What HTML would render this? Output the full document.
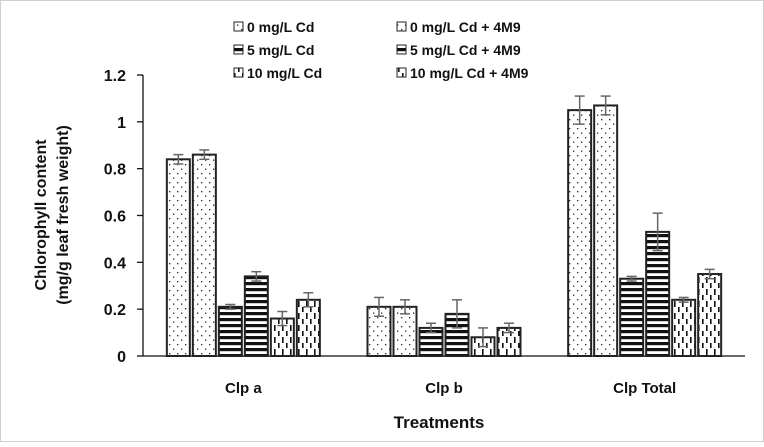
<!DOCTYPE html>
<html><head><meta charset="utf-8"><style>
html,body{margin:0;padding:0;background:#fff}
svg text{font-family:"Liberation Sans",sans-serif;font-weight:bold;fill:#111}
</style></head><body>
<svg id="chart" width="764" height="442" xmlns="http://www.w3.org/2000/svg">
<defs>
<pattern id="pDots" width="8" height="9" patternUnits="userSpaceOnUse"><rect width="8" height="9" fill="#fff"/><rect x="1" y="2" width="1.3" height="1.3" fill="#222"/><rect x="5" y="6.5" width="1.3" height="1.3" fill="#222"/></pattern>
<pattern id="pStripe" width="6" height="6" patternUnits="userSpaceOnUse"><rect width="6" height="6" fill="#fff"/><rect y="0" width="6" height="3.2" fill="#111"/></pattern>
<pattern id="pDash" width="8" height="12" patternUnits="userSpaceOnUse"><rect width="8" height="12" fill="#fff"/><rect x="2" y="1" width="1.6" height="6" fill="#111"/><rect x="6" y="7" width="1.6" height="6" fill="#111"/></pattern>
</defs>
<rect x="0.5" y="0.5" width="763" height="441" fill="#fff" stroke="#d0d0d0"/>
<g id="axes"></g>
<g id="bars"></g>
<g id="legend"></g>
<text x="439" y="428" text-anchor="middle" font-size="17">Treatments</text>
<text transform="translate(46,215) rotate(-90)" text-anchor="middle" font-size="16"><tspan x="0" dy="0">Chlorophyll content</tspan><tspan x="0" dy="22">(mg/g leaf fresh weight)</tspan></text>
</svg>
<script>
const categories = ["Clp a", "Clp b", "Clp Total"];
const seriesNames = ["0 mg/L Cd", "0 mg/L Cd + 4M9", "5 mg/L Cd", "5 mg/L Cd + 4M9", "10 mg/L Cd", "10 mg/L Cd + 4M9"];
const values0 = [0.84, 0.21, 1.05];
const values0M = [0.86, 0.21, 1.07];
const values5 = [0.21, 0.12, 0.33];
const values5M = [0.34, 0.18, 0.53];
const values10 = [0.16, 0.08, 0.24];
const values10M = [0.24, 0.12, 0.35];
const err0 = [0.02, 0.04, 0.06];
const err0M = [0.02, 0.03, 0.04];
const err5 = [0.01, 0.02, 0.01];
const err5M = [0.02, 0.06, 0.08];
const err10 = [0.03, 0.04, 0.01];
const err10M = [0.03, 0.02, 0.02];
const yTicks = [0, 0.2, 0.4, 0.6, 0.8, 1, 1.2];

const NS = "http://www.w3.org/2000/svg";
const series = [values0, values0M, values5, values5M, values10, values10M];
const errs = [err0, err0M, err5, err5M, err10, err10M];
const fills = ["url(#pDots)","url(#pDots)","url(#pStripe)","url(#pStripe)","url(#pDash)","url(#pDash)"];
const x0 = 143, x1 = 745, yBase = 356, yTop = 75, yMax = 1.2;
const y = v => yBase - (v / yMax) * (yBase - yTop);
const catW = (x1 - x0) / categories.length;
const xc = i => x0 + catW * (i + 0.5);
function mk(tag, attrs, parent) { const e = document.createElementNS(NS, tag); for (const k in attrs) e.setAttribute(k, attrs[k]); parent.appendChild(e); return e; }

const axes = document.getElementById("axes");
const yl = mk("line", {x1: x0, y1: yTop, x2: x0, y2: yBase, stroke: "#111", "stroke-width": 1.3}, axes);


const xl = mk("line", {x1: x0, y1: yBase, x2: x1, y2: yBase, stroke: "#111", "stroke-width": 1.3}, axes);


yTicks.forEach(t => {
  const tk = mk("line", {x1: x0 - 6, y1: y(t), x2: x0, y2: y(t), stroke: "#111", "stroke-width": 1.3}, axes);
  
  
  const lb = mk("text", {x: 126, y: y(t) + 6, "text-anchor": "end", "font-size": 16}, axes);
  lb.textContent = String(t);
  
  
});
categories.forEach((c, i) => {
  const lb = mk("text", {x: xc(i), y: 393, "text-anchor": "middle", "font-size": 15}, axes);
  lb.textContent = c;
  
  
});

const bars = document.getElementById("bars");
const bw = 23, step = 26;
categories.forEach((c, i) => {
  series.forEach((vals, s) => {
    const bx = xc(i) - 3 * step + s * step + 1.5;
    const v = vals[i], e = errs[s][i];
    const r = mk("rect", {x: bx, y: y(v), width: bw, height: yBase - y(v), fill: fills[s], stroke: "#222", "stroke-width": 2}, bars);
    
    
    const cx = bx + bw / 2;
    const g = mk("g", {stroke: "#666", "stroke-width": 1.5}, bars);
    
    
    mk("line", {x1: cx, y1: y(v + e), x2: cx, y2: y(v - e)}, g);
    mk("line", {x1: cx - 5, y1: y(v + e), x2: cx + 5, y2: y(v + e)}, g);
    mk("line", {x1: cx - 5, y1: y(v - e), x2: cx + 5, y2: y(v - e)}, g);
  });
});

const legend = document.getElementById("legend");
seriesNames.forEach((n, s) => {
  const col = s % 2, row = Math.floor(s / 2);
  const lx = col === 0 ? 234 : 397, ly = 27 + row * 23;
  const g = mk("g", {}, legend);
  
  
  mk("rect", {x: lx, y: ly - 5, width: 9, height: 9, fill: fills[s], stroke: "#222", "stroke-width": 1}, g);
  const t = mk("text", {x: lx + 13, y: ly + 5, "font-size": 14}, g);
  t.textContent = n;
});
</script>
</body></html>
